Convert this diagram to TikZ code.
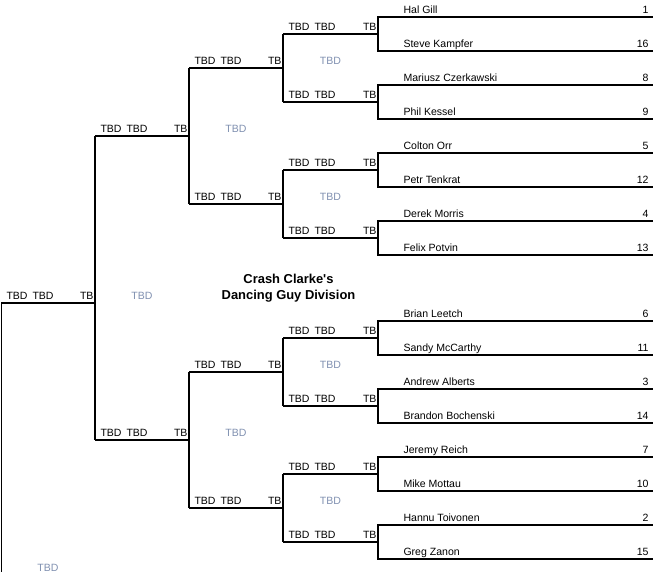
\documentclass[tikz,border=0pt]{standalone}
\usepackage{fontspec}
\setmainfont{Liberation Sans}
\definecolor{scoregray}{RGB}{128,144,176}
\begin{document}
\begin{tikzpicture}[x=0.75pt,y=-0.75pt,line width=0.8pt,
  lbl/.style={font=\fontsize{7.9}{9}\selectfont,inner sep=0pt},
  scoretxt/.style={lbl,text=scoregray,anchor=base},
  ttl/.style={font=\fontsize{9.7}{12}\selectfont\bfseries,align=center,inner sep=0pt}]
\useasboundingbox (0,0) rectangle (653,572);
% round 1: players
\foreach \k/\yt/\na/\sa/\nb/\sb in {
  0/17/Hal Gill/1/Steve Kampfer/16,
  1/85/Mariusz Czerkawski/8/Phil Kessel/9,
  2/153/Colton Orr/5/Petr Tenkrat/12,
  3/221/Derek Morris/4/Felix Potvin/13,
  4/321/Brian Leetch/6/Sandy McCarthy/11,
  5/389/Andrew Alberts/3/Brandon Bochenski/14,
  6/457/Jeremy Reich/7/Mike Mottau/10,
  7/525/Hannu Toivonen/2/Greg Zanon/15}{
  \coordinate (p\k-a) at (378,\yt);
  \coordinate (p\k-ae) at (653,\yt);
  \coordinate (p\k-b) at (378,\yt+34);
  \coordinate (p\k-be) at (653,\yt+34);
  \draw (p\k-ae) -- (p\k-a) -- (p\k-b) -- (p\k-be);
  \node[lbl,anchor=base west] (na-\k) at (403,\yt-4) {\na};
  \node[lbl,anchor=base east] (sa-\k) at (649,\yt-4) {\sa};
  \node[lbl,anchor=base west] (nb-\k) at (403,\yt+30) {\nb};
  \node[lbl,anchor=base east] (sb-\k) at (649,\yt+30) {\sb};
}
% round 2 lines
\foreach \k/\y in {0/34,1/102,2/170,3/238,4/338,5/406,6/474,7/542}{
  \coordinate (r2-\k) at (283,\y);
  \coordinate (r2e-\k) at (378,\y);
  \draw (r2-\k) -- (r2e-\k);
  \node[lbl,anchor=base west] (r2a-\k) at (288,\y-4) {TBD};
  \node[lbl,anchor=base west] (r2b-\k) at (314,\y-4) {TBD};
  \node[lbl,anchor=base east] (r2c-\k) at (377,\y-4) {TB};
}
% round 3 lines
\foreach \j/\a/\b/\y in {0/0/1/68,1/2/3/204,2/4/5/372,3/6/7/508}{
  \draw (r2-\a) -- (r2-\b);
  \coordinate (r3-\j) at (189,\y);
  \coordinate (r3e-\j) at (283,\y);
  \draw (r3-\j) -- (r3e-\j);
  \node[lbl,anchor=base west] (r3a-\j) at (194,\y-4) {TBD};
  \node[lbl,anchor=base west] (r3b-\j) at (220,\y-4) {TBD};
  \node[lbl,anchor=base east] (r3c-\j) at (282,\y-4) {TB};
  \node[scoretxt] (g2-\j) at (330.5,\y-4) {TBD};
}
% round 4 lines
\foreach \i/\a/\b/\y in {0/0/1/136,1/2/3/440}{
  \draw (r3-\a) -- (r3-\b);
  \coordinate (r4-\i) at (95,\y);
  \coordinate (r4e-\i) at (189,\y);
  \draw (r4-\i) -- (r4e-\i);
  \node[lbl,anchor=base west] (r4a-\i) at (100,\y-4) {TBD};
  \node[lbl,anchor=base west] (r4b-\i) at (126,\y-4) {TBD};
  \node[lbl,anchor=base east] (r4c-\i) at (188,\y-4) {TB};
  \node[scoretxt] (g3-\i) at (236,\y-4) {TBD};
}
% final
\draw (r4-0) -- (r4-1);
\coordinate (r5) at (1.5,303);
\coordinate (r5e) at (95,303);
\coordinate (r5d) at (1.5,572);
\draw (r5e) -- (r5) -- (r5d);
\node[lbl,anchor=base west] (r5a) at (6,299) {TBD};
\node[lbl,anchor=base west] (r5b) at (32,299) {TBD};
\node[lbl,anchor=base east] (r5c) at (94,299) {TB};
\node[scoretxt] (g4) at (142,299) {TBD};
\node[scoretxt] (g5) at (48,571.5) {TBD};
% title
\node[ttl] (title) at (288.5,288) {Crash Clarke\textquotesingle s\\Dancing Guy Division};
\end{tikzpicture}
\end{document}
